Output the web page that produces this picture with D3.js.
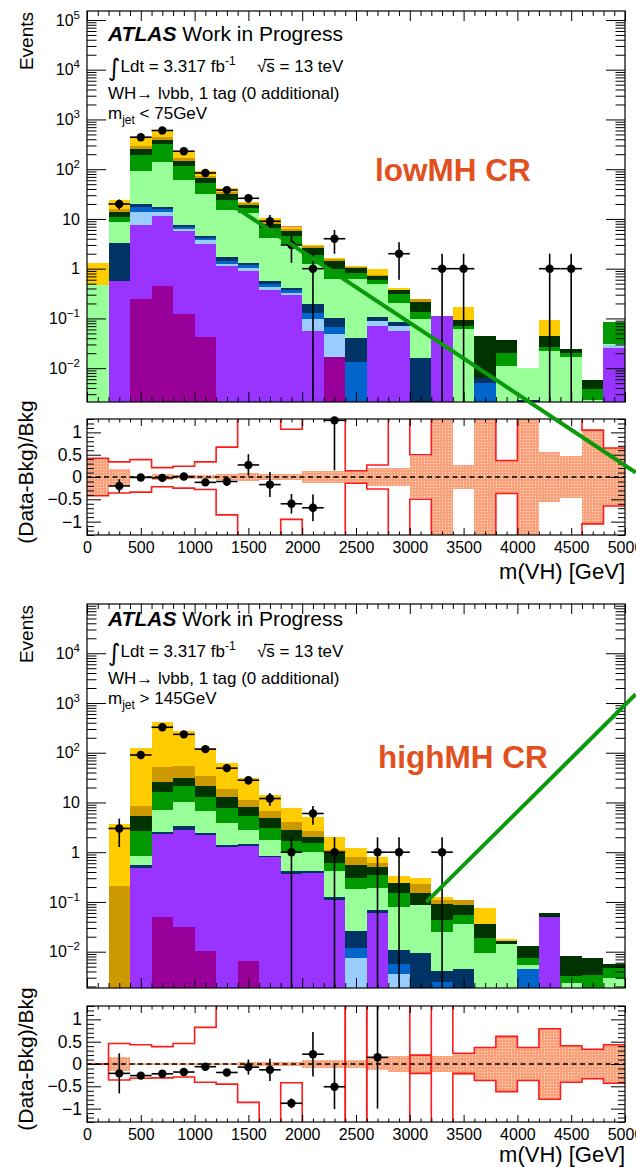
<!DOCTYPE html>
<html>
<head>
<meta charset="utf-8">
<script src="https://cdn.jsdelivr.net/npm/d3@7"></script>
<style>
  body { margin: 0; background: #fff; }
  text { font-family: "Liberation Sans", Arial, Helvetica, sans-serif; }
</style>
</head>
<body>
<svg id="chart" width="636" height="1167"></svg>
<script>
// bin edges of m(VH) in GeV
var binEdges = [0, 200, 400, 600, 800, 1000, 1200, 1400, 1600, 1800, 2000, 2200, 2400,
  2600, 2800, 3000, 3200, 3400, 3600, 3800, 4000, 4200, 4400, 4600, 4800, 5000];

// stack components, from bottom to top
var components = ["magenta", "purple", "lightBlue", "blue", "navy", "lightGreen",
  "green", "darkGreen", "darkGold", "gold", "salmon"];

// ---- lowMH CR (events per bin, per component) ----
var lowMagenta   = [0, 0, 0.25, 0.44, 0.12, 0.042, 0, 0, 0, 0, 0, 0.0165, 0, 0, 0, 0, 0, 0, 0, 0, 0, 0, 0, 0, 0];
var lowPurple    = [0, 0.57, 7.35, 11.2, 5.7, 3.16, 1.12, 0.91, 0.37, 0.30, 0.056, 0, 0, 0.071, 0.056, 0, 0.11, 0, 0, 0, 0, 0, 0, 0, 0.026];
var lowLightBlue = [0, 0, 6.0, 2.0, 0.6, 0.5, 0.12, 0.12, 0.05, 0.03, 0.041, 0.0325, 0, 0.019, 0.013, 0, 0, 0, 0, 0, 0, 0, 0, 0, 0.003];
var lowBlue      = [0, 0, 4.1, 2.3, 0.5, 0.4, 0.16, 0.14, 0.08, 0.04, 0.029, 0.019, 0.0135, 0, 0, 0, 0, 0, 0.005, 0, 0, 0, 0, 0, 0];
var lowNavy      = [0, 2.73, 2.3, 1.1, 0.7, 0.5, 0.34, 0.13, 0.07, 0.03, 0.069, 0.032, 0.0275, 0.018, 0.014, 0.016, 0, 0, 0.0013, 0, 0.0023, 0, 0, 0, 0];
var lowLightGreen = [0.46, 5.3, 73, 121, 53, 26.4, 13.4, 11.7, 3.53, 2.7, 1.045, 0.52, 0.58, 0.39, 0.117, 0.081, 0, 0.061, 0, 0.011, 0.0077, 0.022, 0.0165, 0.0023, 0.002];
var lowGreen     = [0, 2.5, 103, 185, 57, 21, 9.4, 3.6, 2.4, 1.5, 0.66, 0.36, 0.19, 0.09, 0.11, 0.039, 0, 0.01, 0, 0.009, 0, 0.005, 0.0039, 0.0015, 0.052];
var lowDarkGreen = [0, 2.9, 60, 66, 31, 14, 6.5, 2.8, 1.4, 1.0, 0.7, 0.47, 0.22, 0.13, 0.06, 0.074, 0, 0.022, 0.0377, 0.017, 0, 0.018, 0.0036, 0.002, 0];
var lowDarkGold  = [0, 1.9, 42, 48, 20, 8, 3.5, 1.2, 1.0, 0.7, 0.2, 0.1, 0.04, 0.02, 0, 0.035, 0, 0, 0, 0, 0, 0, 0, 0, 0];
var lowGold      = [0.84, 8.1, 139, 180, 61, 19, 8, 0.9, 1.5, 0.5, 0.2, 0.11, 0.08, 0.25, 0.04, 0, 0, 0.077, 0, 0, 0, 0.048, 0, 0, 0];
var lowSalmon    = [0, 0, 0, 0, 0, 0, 0, 0, 0, 0.4, 0, 0, 0, 0, 0, 0, 0, 0, 0, 0, 0, 0, 0, 0, 0];

var lowData    = [0, 20, 440, 600, 230, 84, 38, 26, 9, 3, 1, 4, 0, 0, 2, 0, 1, 1, 0, 0, 0, 1, 1, 0, 0];
var lowDataErr = [0, 4.5, 21, 24.5, 15.2, 9.2, 6.2, 5.1, 3, 1.7, 1, 2, 0, 0, 1.4, 0, 1, 1, 0, 0, 0, 1, 1, 0, 0];

// ratio panel, lowMH
var lowRatio    = [null, -0.2, -0.01, -0.02, 0.01, -0.12, -0.1, 0.27, -0.17, -0.6, -0.69, 1.27, null, null, null, null, null, null, null, null, null, null, null, null, null];
var lowRatioErr = [null, 0.15, 0.03, 0.03, 0.04, 0.07, 0.1, 0.24, 0.28, 0.22, 0.3, 1.12, null, null, null, null, null, null, null, null, null, null, null, null, null];
var lowBand     = [0.42, 0.18, 0.03, 0.06, 0.04, 0.05, 0.06, 0.1, 0.07, 0.07, 0.13, 0.13, 0.13, 0.2, 0.2, 0.47, 3, 0.28, 3, 0.37, 3, 0.55, 0.47, 1.05, 0.65];
var lowRedUp    = [0.42, 0.34, 0.39, 0.21, 0.24, 0.34, 0.67, 3, 3, 1.07, 3, 3, 0.14, 0.27, 3, 0.5, 3, 3, 3, 0.37, 3, 3, 3, 1.05, 0.65];
var lowRedDown  = [-0.42, -0.36, -0.34, -0.22, -0.25, -0.28, -0.85, -3, -3, -0.95, -3, -3, -0.14, -0.27, -3, -0.5, -3, -3, -3, -0.37, -3, -3, -3, -1.05, -0.65];

var lowGreenLine = [[1390, 16.5], [5100, 0.00008]];

// ---- highMH CR ----
var highMagenta   = [0, 0, 0, 0.049, 0.032, 0.0104, 0, 0.0065, 0, 0, 0, 0, 0, 0, 0, 0, 0, 0, 0, 0, 0, 0, 0, 0, 0];
var highPurple    = [0, 0, 0.49, 2.23, 2.77, 2.19, 1.3, 1.34, 0.81, 0.37, 0.39, 0.11, 0, 0.059, 0, 0, 0, 0, 0, 0, 0, 0.049, 0, 0, 0];
var highLightBlue = [0, 0, 0, 0, 0, 0, 0, 0, 0, 0, 0, 0, 0.0076, 0, 0.0035, 0, 0, 0, 0, 0, 0, 0, 0, 0, 0];
var highBlue      = [0, 0, 0, 0, 0, 0, 0, 0, 0, 0, 0, 0, 0.0044, 0, 0.0021, 0, 0.0025, 0, 0, 0, 0.0044, 0, 0, 0, 0];
var highNavy      = [0, 0, 0.06, 0.22, 0.5, 0.25, 0.09, 0.1, 0.03, 0.05, 0.03, 0.016, 0.014, 0.011, 0.0054, 0.0095, 0.0016, 0.0045, 0, 0, 0, 0, 0, 0, 0];
var highLightGreen = [0, 0, 0.30, 4.5, 6.7, 4.35, 2.41, 1.35, 0.89, 0.53, 0.58, 0.284, 0.154, 0.12, 0.069, 0.0775, 0.0209, 0.0315, 0.0095, 0.0146, 0.001, 0, 0.0023, 0, 0.0029];
var highGreen     = [0, 0, 1.85, 8.9, 11, 6.2, 3.8, 2.5, 1.3, 0.72, 0.5, 0.21, 0.12, 0.16, 0.068, 0, 0.019, 0.018, 0.0091, 0, 0.0022, 0, 0.0009, 0.0034, 0.0017];
var highDarkGreen = [0, 0, 2.6, 10.1, 10.6, 8.4, 5.4, 2.9, 1.8, 1.13, 0.55, 0.33, 0.25, 0.16, 0.087, 0.061, 0.047, 0.033, 0.0174, 0.0019, 0.0054, 0.011, 0.0049, 0.0039, 0.001];
var highDarkGold  = [0, 0.21, 3.3, 26, 22.4, 12.6, 6, 3.0, 1.8, 1.3, 0.65, 0.15, 0.24, 0.09, 0, 0.082, 0.021, 0.025, 0, 0, 0, 0, 0, 0, 0];
var highGold      = [0, 3.49, 114, 355, 222, 92, 42, 19.8, 7.5, 3.8, 2.3, 0.95, 0.41, 0.21, 0.095, 0.08, 0.011, 0, 0.04, 0.0015, 0, 0, 0, 0, 0];
var highSalmon    = [0, 0, 0, 0, 0, 0, 0, 0, 0, 0, 0, 0, 0, 0, 0, 0, 0, 0, 0, 0, 0, 0, 0, 0, 0];

var highData    = [0, 3, 90, 325, 234, 118, 49, 28, 12, 1, 6, 1, 0, 1, 1, 0, 1, 0, 0, 0, 0, 0, 0, 0, 0];
var highDataErr = [0, 1.73, 9.5, 18, 15.3, 10.9, 7, 5.3, 3.5, 1, 2.45, 1, 0, 1, 1, 0, 1, 0, 0, 0, 0, 0, 0, 0, 0];

var highRatio    = [null, -0.21, -0.26, -0.22, -0.18, -0.06, -0.19, -0.07, -0.13, -0.88, 0.22, -0.51, null, 0.15, null, null, null, null, null, null, null, null, null, null, null];
var highRatioErr = [null, 0.45, 0.04, 0.03, 0.03, 0.05, 0.07, 0.17, 0.25, 0.11, 0.5, 0.5, null, 1.15, null, null, null, null, null, null, null, null, null, null, null];
var highBand     = [0, 0.16, 0.02, 0.02, 0.02, 0.03, 0.03, 0.04, 0.04, 0.05, 0.1, 0.1, 0.1, 0.13, 0.19, 0.2, 0.19, 0.24, 0.37, 0.62, 0.37, 0.79, 0.41, 0.33, 0.43];
var highRedUp    = [0, 0.46, 0.43, 0.39, 0.46, 0.82, 3, 3, 3, 3, 3, 3, -3, 3, 3, -0.21, 3, 0.24, 0.37, 0.62, 0.37, 0.79, 0.41, 0.33, 0.43];
var highRedDown  = [0, -0.36, -0.32, -0.31, -0.29, -0.41, -0.45, -0.86, -3, -0.42, -3, -3, 3, -3, -3, 0.2, -3, -0.21, -0.37, -0.62, -0.37, -0.79, -0.41, -0.33, -0.43];

var highGreenLine = [[3155, 0.1], [5100, 1500]];

// x-axis tick labels
var xTickValues = [0, 500, 1000, 1500, 2000, 2500, 3000, 3500, 4000, 4500, 5000];
var ratioTickValues = [-1, -0.5, 0, 0.5, 1];

var compColors = {
  magenta: "#990099", purple: "#9933ff", lightBlue: "#99ccff", blue: "#0066cc",
  navy: "#003366", lightGreen: "#99ff99", green: "#009900", darkGreen: "#003300",
  darkGold: "#cc9900", gold: "#ffcc00", salmon: "#ff7755"
};

var regions = [
  {
    id: "low", label: "lowMH CR", cut: " < 75GeV",
    stack: {magenta: lowMagenta, purple: lowPurple, lightBlue: lowLightBlue, blue: lowBlue, navy: lowNavy,
      lightGreen: lowLightGreen, green: lowGreen, darkGreen: lowDarkGreen, darkGold: lowDarkGold, gold: lowGold, salmon: lowSalmon},
    data: lowData, dataErr: lowDataErr, ratio: lowRatio, ratioErr: lowRatioErr,
    band: lowBand, redUp: lowRedUp, redDown: lowRedDown, greenLine: lowGreenLine,
    mainTop: 11, mainBottom: 402, logMin: -2.68, logMax: 5.18,
    ratioTop: 419, ratioBottom: 535, dy: 0, labelX: 375, labelY: 181,
    ratioTitleY: 472, xTitleY: 579
  },
  {
    id: "high", label: "highMH CR", cut: " > 145GeV",
    stack: {magenta: highMagenta, purple: highPurple, lightBlue: highLightBlue, blue: highBlue, navy: highNavy,
      lightGreen: highLightGreen, green: highGreen, darkGreen: highDarkGreen, darkGold: highDarkGold, gold: highGold, salmon: highSalmon},
    data: highData, dataErr: highDataErr, ratio: highRatio, ratioErr: highRatioErr,
    band: highBand, redUp: highRedUp, redDown: highRedDown, greenLine: highGreenLine,
    mainTop: 604, mainBottom: 988, logMin: -2.73, logMax: 4.99,
    ratioTop: 1006, ratioBottom: 1122, dy: 585, labelX: 378, labelY: 768,
    ratioTitleY: 1059, xTitleY: 1162
  }
];

var svg = d3.select("#chart");
var defs = svg.append("defs");

// dotted fill of the uncertainty band
var pat = defs.append("pattern").attr("id", "bandFill")
    .attr("width", 3).attr("height", 3).attr("patternUnits", "userSpaceOnUse");
pat.append("rect").attr("width", 3).attr("height", 3).attr("fill", "#f9a27b");
pat.append("rect").attr("x", 1).attr("y", 1).attr("width", 1).attr("height", 1).attr("fill", "#ffe2d4");

var x = d3.scaleLinear().domain([0, 5000]).range([87, 625]);
var xMinor = x.ticks(50).filter(function(d) { return d % 500 !== 0; });

function cleanAxis(g) {
  g.select(".domain").remove();
  g.selectAll("line").attr("stroke", "#000").attr("stroke-width", 1);
}

// data points with error bars
function drawPoints(g, pts, yFn, yTop, yBot) {
  function cy(v) { return Math.max(yTop, Math.min(yBot, yFn(v))); }
  var p = g.selectAll(".pt").data(pts).enter().append("g").attr("class", "pt");
  p.append("line")
      .attr("x1", function(d) { return x(d.lo); })
      .attr("x2", function(d) { return x(d.hi); })
      .attr("y1", function(d) { return cy(d.v); })
      .attr("y2", function(d) { return cy(d.v); });
  p.append("line")
      .attr("x1", function(d) { return x((d.lo + d.hi) / 2); })
      .attr("x2", function(d) { return x((d.lo + d.hi) / 2); })
      .attr("y1", function(d) { return cy(d.v + d.e); })
      .attr("y2", function(d) { return cy(d.v - d.e); });
  p.selectAll("line").attr("stroke", "#000").attr("stroke-width", 1.6);
  p.append("circle")
      .attr("cx", function(d) { return x((d.lo + d.hi) / 2); })
      .attr("cy", function(d) { return yFn(d.v); })
      .attr("r", 4.2)
      .attr("fill", "#000");
}

function drawRegion(r) {
  var y = d3.scaleLog()
      .domain([Math.pow(10, r.logMin), Math.pow(10, r.logMax)])
      .range([r.mainBottom, r.mainTop]);
  var ymin = y.domain()[0];
  var yr = d3.scaleLinear().domain([-1.3, 1.3]).range([r.ratioBottom, r.ratioTop]);

  defs.append("clipPath").attr("id", "main-" + r.id).append("rect")
      .attr("x", x(0)).attr("y", r.mainTop)
      .attr("width", x(5000) - x(0)).attr("height", r.mainBottom - r.mainTop);
  defs.append("clipPath").attr("id", "ratio-" + r.id).append("rect")
      .attr("x", x(0)).attr("y", r.ratioTop)
      .attr("width", x(5000) - x(0)).attr("height", r.ratioBottom - r.ratioTop);

  // stacked histogram
  var rows = binEdges.slice(0, -1).map(function(lo, i) {
    var row = {lo: lo, hi: binEdges[i + 1]};
    components.forEach(function(c) { row[c] = r.stack[c][i]; });
    return row;
  });
  var series = d3.stack().keys(components)(rows);

  var gMain = svg.append("g").attr("clip-path", "url(#main-" + r.id + ")");
  gMain.selectAll(".layer")
      .data(series)
      .enter().append("g")
      .attr("class", "layer")
      .attr("fill", function(s) { return compColors[s.key]; })
    .selectAll("rect")
      .data(function(s) { return s.filter(function(d) { return d[1] > d[0] && d[1] > ymin; }); })
      .enter().append("rect")
      .attr("shape-rendering", "crispEdges")
      .attr("x", function(d) { return x(d.data.lo); })
      .attr("width", function(d) { return x(d.data.hi) - x(d.data.lo); })
      .attr("y", function(d) { return y(d[1]); })
      .attr("height", function(d) { return y(Math.max(d[0], ymin / 2)) - y(d[1]); });

  // data
  var pts = r.data.map(function(n, i) {
    return {v: n, e: r.dataErr[i], lo: binEdges[i], hi: binEdges[i + 1]};
  }).filter(function(d) { return d.v > 0; });
  drawPoints(svg.append("g"), pts, function(v) { return v > ymin ? y(v) : r.mainBottom + 10; },
    r.mainTop, r.mainBottom);

  // main axes
  var yAll = y.ticks(30);
  var yMajor = yAll.filter(function(d) { return Math.abs(Math.log10(d) - Math.round(Math.log10(d))) < 1e-6; });
  var yMinor = yAll.filter(function(d) { return yMajor.indexOf(d) < 0; });

  svg.append("g").attr("transform", "translate(0," + r.mainBottom + ")")
      .call(d3.axisBottom(x).tickValues(xTickValues).tickSize(-10).tickFormat("")).call(cleanAxis);
  svg.append("g").attr("transform", "translate(0," + r.mainBottom + ")")
      .call(d3.axisBottom(x).tickValues(xMinor).tickSize(-5).tickFormat("")).call(cleanAxis);
  svg.append("g").attr("transform", "translate(0," + r.mainTop + ")")
      .call(d3.axisTop(x).tickValues(xTickValues).tickSize(-10).tickFormat("")).call(cleanAxis);
  svg.append("g").attr("transform", "translate(0," + r.mainTop + ")")
      .call(d3.axisTop(x).tickValues(xMinor).tickSize(-5).tickFormat("")).call(cleanAxis);
  svg.append("g").attr("transform", "translate(" + x(0) + ",0)")
      .call(d3.axisLeft(y).tickValues(yMajor).tickSize(-19).tickFormat("")).call(cleanAxis);
  svg.append("g").attr("transform", "translate(" + x(0) + ",0)")
      .call(d3.axisLeft(y).tickValues(yMinor).tickSize(-9.5).tickFormat("")).call(cleanAxis);
  svg.append("g").attr("transform", "translate(" + x(5000) + ",0)")
      .call(d3.axisRight(y).tickValues(yMajor).tickSize(-19).tickFormat("")).call(cleanAxis);
  svg.append("g").attr("transform", "translate(" + x(5000) + ",0)")
      .call(d3.axisRight(y).tickValues(yMinor).tickSize(-9.5).tickFormat("")).call(cleanAxis);

  // log labels 10^n
  var lab = svg.append("g").selectAll("text").data(yMajor).enter().append("text")
      .attr("x", 80).attr("y", function(d) { return y(d); })
      .attr("dy", "0.36em").attr("text-anchor", "end").attr("font-size", 16);
  lab.each(function(d) {
    var e = Math.round(Math.log10(d));
    var t = d3.select(this);
    if (e === 0) { t.text("1"); return; }
    if (e === 1) { t.text("10"); return; }
    t.append("tspan").text("10");
    t.append("tspan").attr("dy", -7).attr("font-size", 11.5).text(e < 0 ? "\u2212" + (-e) : e);
  });

  svg.append("rect").attr("x", x(0)).attr("y", r.mainTop)
      .attr("width", x(5000) - x(0)).attr("height", r.mainBottom - r.mainTop)
      .attr("fill", "none").attr("stroke", "#000").attr("stroke-width", 1.2);

  // ratio panel
  var gRatio = svg.append("g").attr("clip-path", "url(#ratio-" + r.id + ")");
  gRatio.selectAll(".band")
      .data(rows.map(function(d, i) { return {lo: d.lo, hi: d.hi, b: r.band[i]}; })
        .filter(function(d) { return d.b > 0; }))
      .enter().append("rect")
      .attr("shape-rendering", "crispEdges")
      .attr("x", function(d) { return x(d.lo); })
      .attr("width", function(d) { return x(d.hi) - x(d.lo); })
      .attr("y", function(d) { return yr(d.b); })
      .attr("height", function(d) { return yr(-d.b) - yr(d.b); })
      .attr("fill", "url(#bandFill)");

  var step = d3.line().x(function(d) { return x(d[0]); }).y(function(d) { return yr(d[1]); });
  [r.redUp, r.redDown].forEach(function(vals) {
    var pts2 = [];
    vals.forEach(function(v, i) { pts2.push([binEdges[i], v]); pts2.push([binEdges[i + 1], v]); });
    gRatio.append("path").attr("d", step(pts2))
        .attr("fill", "none").attr("stroke", "#ff1a1a").attr("stroke-width", 1.6);
  });

  gRatio.append("line")
      .attr("x1", x(0)).attr("x2", x(5000)).attr("y1", yr(0)).attr("y2", yr(0))
      .attr("stroke", "#000").attr("stroke-width", 1.3).attr("stroke-dasharray", "5,3.5");

  var rpts = r.ratio.map(function(v, i) {
    return {v: v, e: r.ratioErr[i], lo: binEdges[i], hi: binEdges[i + 1]};
  }).filter(function(d) { return d.v !== null; });
  drawPoints(svg.append("g"), rpts, yr, r.ratioTop, r.ratioBottom);

  var rMinor = yr.ticks(26).filter(function(d) { return Math.abs(d * 2 - Math.round(d * 2)) > 1e-6; });
  var fmtR = function(d) { return d === 0 ? "0" : String(d).replace("-", "\u2212"); };

  svg.append("g").attr("transform", "translate(0," + r.ratioBottom + ")")
      .call(d3.axisBottom(x).tickValues(xTickValues).tickSize(-7).tickPadding(7).tickFormat(d3.format("d")))
      .call(cleanAxis)
      .call(function(g) { g.selectAll("text").attr("font-size", 16).attr("font-family", null).attr("fill", "#000"); });
  svg.append("g").attr("transform", "translate(0," + r.ratioBottom + ")")
      .call(d3.axisBottom(x).tickValues(xMinor).tickSize(-3.5).tickFormat("")).call(cleanAxis);
  svg.append("g").attr("transform", "translate(0," + r.ratioTop + ")")
      .call(d3.axisTop(x).tickValues(xTickValues).tickSize(-7).tickFormat("")).call(cleanAxis);
  svg.append("g").attr("transform", "translate(0," + r.ratioTop + ")")
      .call(d3.axisTop(x).tickValues(xMinor).tickSize(-3.5).tickFormat("")).call(cleanAxis);
  svg.append("g").attr("transform", "translate(" + x(0) + ",0)")
      .call(d3.axisLeft(yr).tickValues(ratioTickValues).tickSize(-14).tickPadding(5).tickFormat(fmtR))
      .call(cleanAxis)
      .call(function(g) { g.selectAll("text").attr("font-size", 17.5).attr("font-family", null).attr("fill", "#000"); });
  svg.append("g").attr("transform", "translate(" + x(0) + ",0)")
      .call(d3.axisLeft(yr).tickValues(rMinor).tickSize(-7).tickFormat("")).call(cleanAxis);
  svg.append("g").attr("transform", "translate(" + x(5000) + ",0)")
      .call(d3.axisRight(yr).tickValues(ratioTickValues).tickSize(-14).tickFormat("")).call(cleanAxis);
  svg.append("g").attr("transform", "translate(" + x(5000) + ",0)")
      .call(d3.axisRight(yr).tickValues(rMinor).tickSize(-7).tickFormat("")).call(cleanAxis);

  svg.append("rect").attr("x", x(0)).attr("y", r.ratioTop)
      .attr("width", x(5000) - x(0)).attr("height", r.ratioBottom - r.ratioTop)
      .attr("fill", "none").attr("stroke", "#000").attr("stroke-width", 1.2);

  // titles
  svg.append("text")
      .attr("transform", "translate(33," + (r.mainTop + 1) + ") rotate(-90)")
      .attr("text-anchor", "end").attr("font-size", 19).text("Events");
  svg.append("text")
      .attr("transform", "translate(33," + r.ratioTitleY + ") rotate(-90)")
      .attr("text-anchor", "middle").attr("font-size", 21).text("(Data-Bkg)/Bkg");
  svg.append("text")
      .attr("x", 625).attr("y", r.xTitleY)
      .attr("text-anchor", "end").attr("font-size", 22).text("m(VH) [GeV]");

  // ATLAS labels
  var t1 = svg.append("text").attr("x", 108).attr("y", 41 + r.dy).attr("font-size", 21);
  t1.append("tspan").attr("font-weight", "bold").attr("font-style", "italic").text("ATLAS");
  t1.append("tspan").text(" Work in Progress");

  var t2 = svg.append("text").attr("x", 108).attr("y", 72 + r.dy).attr("font-size", 17);
  t2.append("tspan").attr("font-family", "DejaVu Sans").attr("font-size", 24).attr("dy", 4).text("\u222B");
  t2.append("tspan").attr("x", 120.5).attr("dy", -4).text("Ldt = 3.317 fb");
  t2.append("tspan").attr("dy", -7).attr("font-size", 12).text("-1");
  t2.append("tspan").attr("x", 257).attr("dy", 7).text("\u221As");
  t2.append("tspan").text(" = 13 teV");
  svg.append("line").attr("x1", 264).attr("x2", 274).attr("y1", 59.5 + r.dy).attr("y2", 59.5 + r.dy)
      .attr("stroke", "#000").attr("stroke-width", 1.2);

  svg.append("text").attr("x", 108).attr("y", 99 + r.dy).attr("font-size", 17)
      .text("WH\u2192 l\u03BDbb, 1 tag (0 additional)");

  var t4 = svg.append("text").attr("x", 108).attr("y", 119 + r.dy).attr("font-size", 17);
  t4.append("tspan").text("m");
  t4.append("tspan").attr("dy", 5).attr("font-size", 12).text("jet");
  t4.append("tspan").attr("dy", -5).text(r.cut);

  svg.append("text").attr("x", r.labelX).attr("y", r.labelY)
      .attr("font-size", 31.5).attr("font-weight", "bold").attr("fill", "#e2501d")
      .text(r.label);

  // straight green line drawn over the pads
  var gl = d3.line().x(function(d) { return x(d[0]); }).y(function(d) { return y(d[1]); });
  svg.append("path").attr("d", gl(r.greenLine))
      .attr("fill", "none").attr("stroke", "#0a990a").attr("stroke-width", 4);
}

regions.forEach(drawRegion);
</script>
</body>
</html>
